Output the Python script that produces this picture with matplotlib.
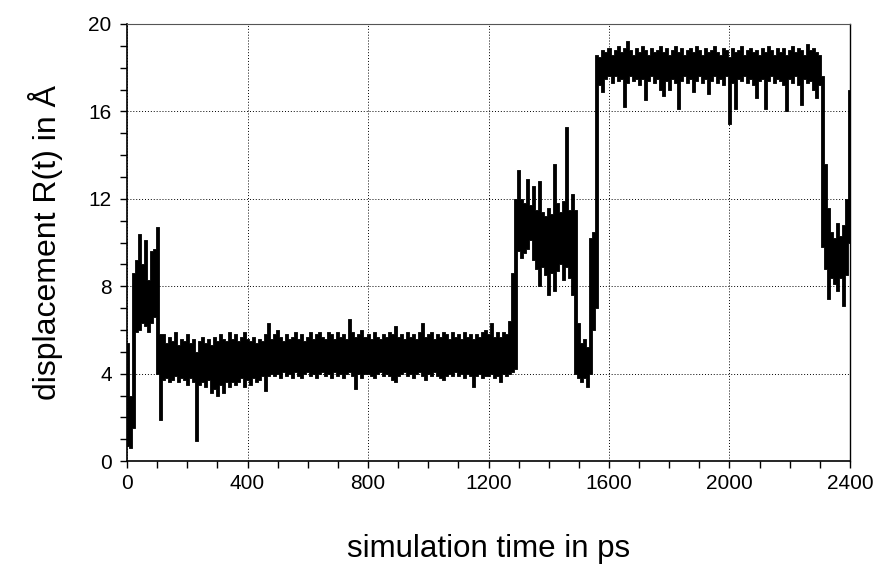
import matplotlib
matplotlib.use("Agg")
import matplotlib.pyplot as plt
from matplotlib.ticker import MultipleLocator
import numpy as np

# displacement R(t) in 10 ps bins: lowest and highest value per bin
dt = 10
r_low = [
    0.7, 0.6, 1.5, 5.9, 6.0, 6.3, 6.2, 5.9, 6.3, 6.6,
    4.0, 1.9, 3.7, 3.8, 3.6, 3.7, 3.9, 3.6, 3.8, 3.7,
    3.5, 3.8, 3.6, 0.9, 3.5, 3.6, 3.4, 3.7, 3.1, 3.3,
    3.0, 3.5, 3.1, 3.6, 3.4, 3.6, 3.5, 3.6, 3.8, 3.4,
    3.7, 3.5, 3.8, 3.6, 3.7, 3.9, 3.2, 3.9, 4.0, 3.9,
    4.0, 3.8, 4.1, 3.9, 4.0, 3.8, 4.1, 3.9, 3.8, 4.0,
    4.1, 3.9, 4.0, 3.8, 4.0, 4.1, 3.9, 4.0, 3.8, 4.1,
    3.9, 4.0, 3.8, 4.0, 4.1, 3.9, 3.3, 4.0, 3.8, 4.0,
    4.0, 3.9, 3.8, 4.0, 4.1, 3.9, 4.0, 3.9, 3.7, 3.6,
    3.9, 4.0, 4.1, 3.9, 4.0, 3.8, 4.0, 4.1, 3.9, 3.7,
    4.0, 3.9, 4.1, 3.9, 3.8, 3.7, 3.9, 4.0, 3.9, 4.1,
    3.9, 4.0, 3.8, 4.0, 3.9, 3.4, 3.9, 4.0, 3.8, 3.9,
    3.9, 4.0, 3.8, 3.9, 3.6, 4.0, 3.9, 4.0, 4.1, 4.2,
    9.6, 9.3, 9.5, 9.7, 10.1, 9.2, 8.8, 8.0, 8.9, 8.5,
    7.6, 8.6, 7.8, 8.7, 9.0, 8.3, 8.9, 8.4, 7.6, 4.0,
    3.8, 3.6, 3.8, 3.4, 4.0, 6.0, 7.0, 17.2, 16.9, 17.5,
    17.6, 17.3, 17.6, 17.4, 17.5, 16.2, 17.3, 17.6, 17.4, 17.5,
    17.2, 17.5, 16.5, 17.4, 17.6, 17.3, 17.5, 17.0, 16.7, 17.4,
    17.0, 17.5, 17.3, 16.1, 17.4, 17.6, 17.3, 17.5, 16.9, 17.4,
    17.6, 17.3, 17.5, 16.8, 17.4, 17.6, 17.3, 17.5, 17.2, 17.6,
    15.4, 17.3, 16.1, 17.5, 17.4, 17.6, 17.3, 17.5, 17.2, 16.6,
    17.4, 17.5, 16.1, 17.4, 17.6, 17.3, 17.5, 17.4, 17.2, 16.0,
    17.5, 17.3, 17.6, 17.2, 16.3, 17.5, 17.3, 17.4, 17.0, 16.6,
    17.2, 9.8, 8.8, 7.4, 8.4, 8.1, 7.8, 8.4, 7.1, 8.5,
    10.0,
]
r_high = [
    5.4, 3.0, 8.6, 9.2, 10.4, 9.0, 10.1, 8.3, 9.6, 9.7,
    10.7, 5.8, 5.8, 5.4, 5.7, 5.5, 5.9, 5.3, 5.6, 5.5,
    5.8, 5.4, 5.6, 5.0, 5.5, 5.7, 5.4, 5.6, 5.3, 5.7,
    5.5, 5.8, 5.6, 5.5, 5.9, 5.6, 5.8, 5.5, 5.7, 5.9,
    5.6, 5.5, 5.7, 5.4, 5.6, 5.5, 5.8, 6.3, 5.6, 5.8,
    6.0, 5.7, 5.5, 5.8, 5.6, 5.7, 5.9, 5.6, 5.8, 5.5,
    5.7, 5.9, 5.6, 5.8, 5.9, 5.7, 5.6, 5.9, 5.8, 5.6,
    5.9, 5.7, 5.8, 5.6, 6.5, 5.9, 5.7, 5.8, 6.0, 5.7,
    5.8, 5.6, 5.9, 5.7, 5.6, 5.8, 5.7, 5.9, 5.8, 6.2,
    5.7, 5.8, 5.6, 5.9, 5.7, 5.8, 5.6, 5.9, 6.3, 5.7,
    5.8, 5.9, 5.6, 5.8, 5.7, 5.9, 5.8, 5.6, 5.9, 5.7,
    5.8, 5.6, 5.9, 5.7, 5.8, 5.6, 5.8, 5.7, 5.9, 6.0,
    5.8, 6.3, 5.7, 5.9, 5.7, 5.9, 5.8, 6.4, 8.6, 12.0,
    13.3, 12.0, 11.8, 12.9, 11.7, 12.6, 11.5, 12.8, 11.4, 11.2,
    11.6, 11.3, 13.6, 11.8, 11.4, 11.9, 15.3, 11.5, 12.2, 11.5,
    6.3, 5.4, 5.6, 5.2, 10.2, 10.5, 18.6, 18.5, 18.8, 18.7,
    18.9, 18.6, 18.8, 19.0, 18.7, 18.9, 19.2, 18.8, 18.6, 18.9,
    18.7, 19.0, 18.8, 18.6, 18.9, 18.7, 18.8, 19.0, 18.7, 18.9,
    18.6, 18.8, 19.0, 18.7, 18.9, 18.6, 18.8, 18.9, 18.7, 19.0,
    18.8, 18.6, 18.9, 18.7, 18.8, 19.0, 18.7, 18.6, 18.9, 18.8,
    18.5, 18.9, 18.7, 18.8, 19.0, 18.6, 18.8, 18.9, 18.7, 18.8,
    18.6, 18.9, 18.7, 19.0, 18.8, 18.6, 18.9, 18.7, 18.9, 18.6,
    18.8, 19.0, 18.7, 18.9, 18.8, 18.6, 19.1, 18.8, 18.9, 18.7,
    18.6, 17.6, 13.6, 11.6, 10.5, 10.2, 10.9, 10.3, 10.8, 12.0,
    17.0,
]
time_ps = np.arange(len(r_low)) * dt

plt.rcParams["font.family"] = ["Liberation Sans", "DejaVu Sans"]

fig = plt.figure(figsize=(8.79, 5.70), dpi=100)
ax = fig.add_axes([0.1445, 0.191, 0.8225, 0.767])

# each bin drawn as a vertical column from its min to its max
ax.fill_between(time_ps, r_low, r_high, step="mid", color="black",
                linewidth=0.6, edgecolor="black")

ax.set_xlim(0, 2400)
ax.set_ylim(0, 20)
ax.xaxis.set_major_locator(MultipleLocator(400))
ax.xaxis.set_minor_locator(MultipleLocator(100))
ax.yaxis.set_major_locator(MultipleLocator(4))
ax.yaxis.set_minor_locator(MultipleLocator(1))
ax.tick_params(which="both", direction="out", length=5, width=1.0,
               labelsize=15, top=False, right=False)
ax.tick_params(axis="x", pad=4)
ax.tick_params(axis="y", pad=6)
ax.grid(which="major", color="black", linestyle=(0, (1, 2)), linewidth=0.7)

for side in ("left", "bottom"):
    ax.spines[side].set_linewidth(1.2)
ax.spines["top"].set_linewidth(0.8)
ax.spines["top"].set_color("#555555")
ax.spines["right"].set_linewidth(1.0)

ax.set_xlabel("simulation time in ps", fontsize=22.5, labelpad=30)
ax.set_ylabel("displacement R(t) in Å", fontsize=23, labelpad=18)

fig.savefig("out.png", dpi=100)
